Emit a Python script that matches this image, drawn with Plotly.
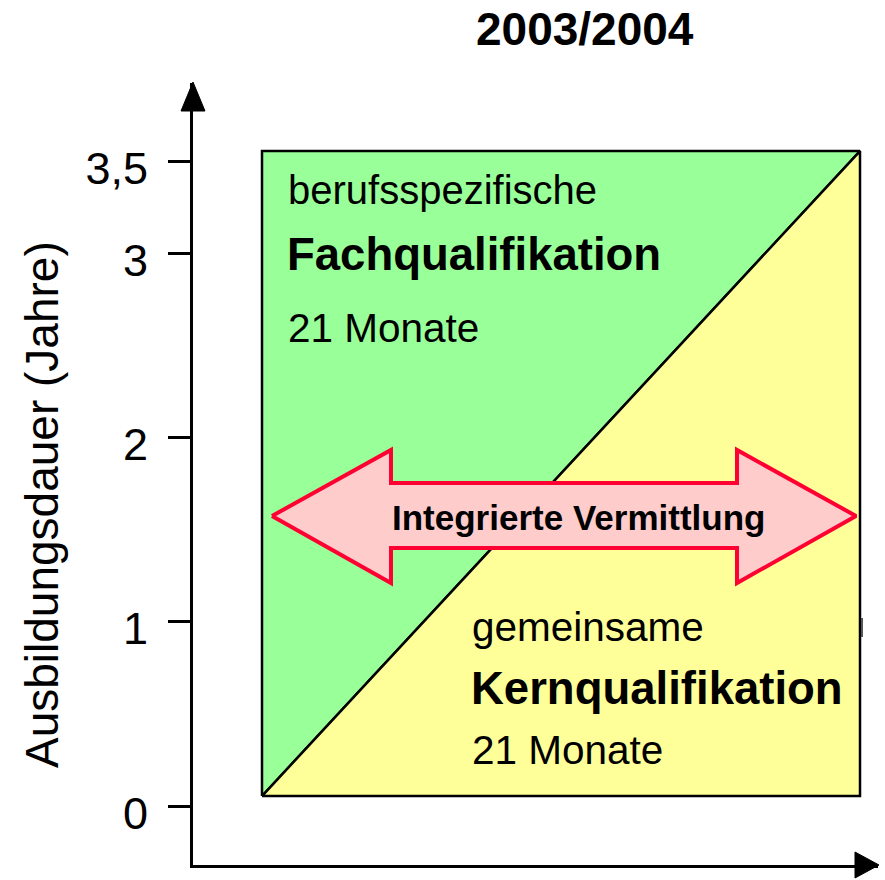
import plotly.graph_objects as go

# ---- data ----
title_text = "2003/2004"
axis_title = "Ausbildungsdauer (Jahre)"
tick_values = [0, 1, 2, 3, 3.5]
tick_labels = ["0", "1", "2", "3", "3,5"]
total_years = 3.5
parts = ["Fachqualifikation", "Kernqualifikation"]
part_prefix = ["berufsspezifische", "gemeinsame"]
part_months = [21, 21]
middle_label = "Integrierte Vermittlung"

# ---- layout geometry (page pixels) ----
W, H = 885, 880
PL, PR, PT, PB = 193, 878, 83, 865  # plot area in page pixels
PW, PH = PR - PL, PB - PT
L, T = PL, PT
R, B = W - PR, H - PB
FONT = "Liberation Sans, Arial, sans-serif"

# y scale: 0 -> 806px, 3.5 -> 161px
y_px0, y_px35 = 806, 161
upp = (y_px0 - y_px35) / total_years  # px per year
y_lo = -(PB - y_px0) / upp
y_hi = (y_px0 - PT) / upp
# x scale: square 0..1 -> 262..860 px
sx0, sx1 = 262, 860
xpu = sx1 - sx0
x_lo = -(sx0 - PL) / xpu
x_hi = (PR - sx0) / xpu

y_off = 0.054  # visual offset of the box


def px(xp):
    return (xp - PL) / PW


def py(yp):
    return (PB - yp) / PH


def dx(xp):
    return (xp - sx0) / xpu


def dy(yp):
    return (y_px0 - yp) / upp


fig = go.Figure()

top = total_years + y_off
bot = y_off
# Fachqualifikation (upper-left triangle)
fig.add_trace(go.Scatter(
    x=[0, 0, 1, 0], y=[bot, top, top, bot], mode="lines", fill="toself",
    fillcolor="#99FF99", line=dict(color="black", width=2.5),
    name=parts[0], hoverinfo="skip", showlegend=False))
# Kernqualifikation (lower-right triangle)
fig.add_trace(go.Scatter(
    x=[0, 1, 1, 0], y=[bot, bot, top, bot], mode="lines", fill="toself",
    fillcolor="#FFFF99", line=dict(color="black", width=2.5),
    name=parts[1], hoverinfo="skip", showlegend=False))

# double arrow (decorative)
ax = [272, 391, 391, 737, 737, 856, 737, 737, 391, 391, 272]
ay = [516, 450, 483, 483, 450, 516, 583, 548, 548, 583, 516]
fig.add_trace(go.Scatter(
    x=[dx(v) for v in ax], y=[dy(v) for v in ay], mode="lines", fill="toself",
    fillcolor="#FFCCCC", line=dict(color="#FF0033", width=4),
    hoverinfo="skip", showlegend=False))

shapes = [
    # y axis arrow head
    dict(type="path", xref="paper", yref="paper",
         path=f"M {px(193)} {py(82)} L {px(181)} {py(111)} L {px(205)} {py(111)} Z",
         fillcolor="black", line=dict(color="black", width=1), layer="above"),
    # x axis arrow head
    dict(type="path", xref="paper", yref="paper",
         path=f"M {px(879)} {py(865)} L {px(855)} {py(852)} L {px(855)} {py(878)} Z",
         fillcolor="black", line=dict(color="black", width=1), layer="above"),
    # small artifact
    dict(type="line", xref="paper", yref="paper",
         x0=px(862), x1=px(862), y0=py(618), y1=py(637),
         line=dict(color="#555555", width=2)),
]

annotations = [
    dict(text=f"<b>{title_text}</b>", xref="paper", yref="paper",
         x=px(585), y=py(29), xanchor="center", yanchor="middle",
         showarrow=False, font=dict(size=46, color="black", family=FONT)),
    dict(text=axis_title, xref="paper", yref="paper",
         x=px(42), y=py(505), xanchor="center", yanchor="middle", textangle=-90,
         showarrow=False, font=dict(size=46, color="black", family=FONT)),
    dict(text=part_prefix[0], x=dx(286), y=dy(190), xanchor="left", yanchor="middle",
         showarrow=False, font=dict(size=40, color="black", family=FONT)),
    dict(text=f"<b>{parts[0]}</b>", x=dx(285), y=dy(254), xanchor="left", yanchor="middle",
         showarrow=False, font=dict(size=45.5, color="black", family=FONT)),
    dict(text=f"{part_months[0]} Monate", x=dx(286), y=dy(328), xanchor="left", yanchor="middle",
         showarrow=False, font=dict(size=40.5, color="black", family=FONT)),
    dict(text=part_prefix[1], x=dx(470), y=dy(627), xanchor="left", yanchor="middle",
         showarrow=False, font=dict(size=40.5, color="black", family=FONT)),
    dict(text=f"<b>{parts[1]}</b>", x=dx(469), y=dy(688), xanchor="left", yanchor="middle",
         showarrow=False, font=dict(size=45.5, color="black", family=FONT)),
    dict(text=f"{part_months[1]} Monate", x=dx(470), y=dy(750), xanchor="left", yanchor="middle",
         showarrow=False, font=dict(size=40.5, color="black", family=FONT)),
    dict(text=f"<b>{middle_label}</b>", x=dx(390), y=dy(517), xanchor="left", yanchor="middle",
         showarrow=False, font=dict(size=35, color="black", family=FONT)),
]

fig.update_layout(
    width=W, height=H,
    margin=dict(l=L, r=R, t=T, b=B),
    paper_bgcolor="white", plot_bgcolor="white",
    showlegend=False, hovermode=False,
    shapes=shapes, annotations=annotations,
    font=dict(family=FONT, color="black"),
    xaxis=dict(range=[x_lo, x_hi], showgrid=False, zeroline=False,
               showticklabels=False, ticks="", showline=True,
               linecolor="black", linewidth=3, fixedrange=True),
    yaxis=dict(range=[y_lo, y_hi], showgrid=False, zeroline=False,
               tickvals=tick_values, ticktext=tick_labels,
               ticks="outside", ticklen=22, tickwidth=3, tickcolor="black",
               ticklabelstandoff=11, ticklabelshift=7,
               tickfont=dict(size=45, color="black", family=FONT),
               showline=True, linecolor="black", linewidth=3, fixedrange=True),
)

fig.write_html(
    "out.html",
    config={"displayModeBar": False},
    post_script="document.body.style.margin='0';document.body.style.overflow='hidden';",
)
